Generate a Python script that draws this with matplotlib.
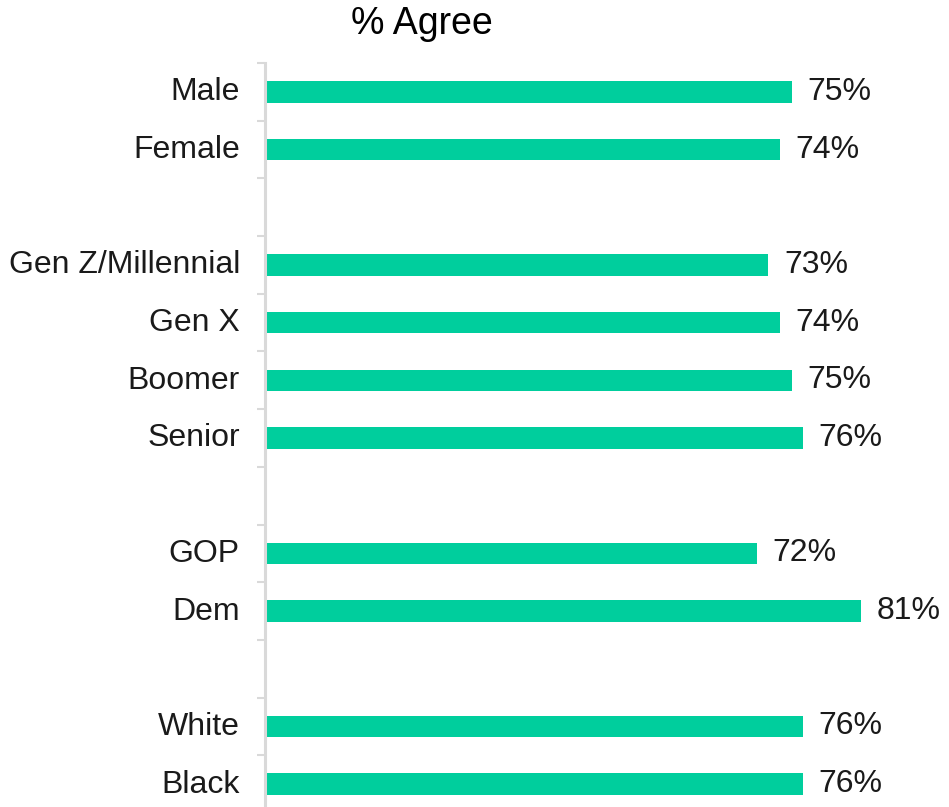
import matplotlib
matplotlib.use("Agg")
import matplotlib.pyplot as plt
import matplotlib.transforms as mtransforms
import numpy as np

# survey groups, blank entries leave a gap between blocks
groups = ["Male", "Female", "",
          "Gen Z/Millennial", "Gen X", "Boomer", "Senior", "",
          "GOP", "Dem", "",
          "White", "Black"]
agree = [75, 74, None,
         73, 74, 75, 76, None,
         72, 81, None,
         76, 76]

bar_color = "#00CE9D"
grid_gray = "#d9d9d9"
text_color = "#1a1a1a"

plt.rcParams["font.family"] = ["Liberation Sans", "DejaVu Sans"]

fig = plt.figure(figsize=(9.49, 8.07), dpi=100)
W, H = 949, 807
ax = fig.add_axes([265 / W, 1 - 813 / H, 675 / W, 750 / H])

ypos = np.arange(len(groups))
for y, v in zip(ypos, agree):
    if v is None:
        continue
    ax.barh(y, v - 29.6, left=29.6, height=0.37, color=bar_color, zorder=2)
    ax.text(v + 1.35, y, f"{v}%", va="center", ha="left",
            fontsize=23, color=text_color)

ax.set_xlim(29.6, 87.8)
ax.set_ylim(len(groups) - 0.5, -0.5)

labelled = [y for y, g in zip(ypos, groups) if g]
ax.set_yticks(labelled)
ax.set_yticklabels([g for g in groups if g], fontsize=23, color=text_color)
ax.tick_params(axis="y", which="major", length=0, pad=18)
# nudge the group names up a little
shift = mtransforms.ScaledTranslation(0, 3 / 100, fig.dpi_scale_trans)
for lbl in ax.get_yticklabels():
    lbl.set_transform(lbl.get_transform() + shift)
ax.set_yticks(np.arange(-0.5, len(groups) + 0.5, 1.0), minor=True)
ax.tick_params(axis="y", which="minor", length=6, width=1.5, color=grid_gray)
ax.set_xticks([])

for side in ["top", "right", "bottom"]:
    ax.spines[side].set_visible(False)
ax.spines["left"].set_color(grid_gray)
ax.spines["left"].set_linewidth(2.2)

fig.text(422 / W, 1 - 24 / H, "% Agree", ha="center", va="center",
         fontsize=27, color="black")

fig.savefig("out.png", dpi=100)
